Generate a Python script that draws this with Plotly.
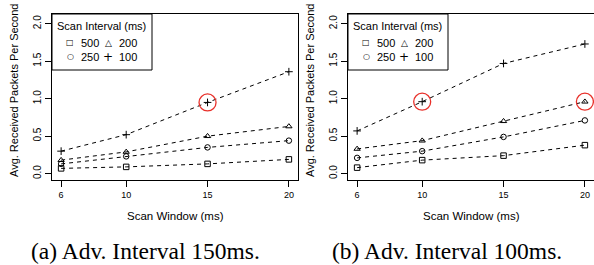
import plotly.graph_objects as go

scan_window = [6, 10, 15, 20]
intervals = ["500", "200", "250", "100"]
symbols = {"500": "square-open", "200": "triangle-up-open", "250": "circle-open", "100": "cross-thin-open"}

# Panel (a): Adv. interval 150 ms
panel_a = {
    "500": [0.07, 0.09, 0.13, 0.19],
    "200": [0.18, 0.29, 0.50, 0.63],
    "250": [0.13, 0.23, 0.35, 0.44],
    "100": [0.30, 0.52, 0.95, 1.36],
}
# Panel (b): Adv. interval 100 ms
panel_b = {
    "500": [0.08, 0.18, 0.24, 0.38],
    "200": [0.33, 0.44, 0.70, 0.96],
    "250": [0.21, 0.30, 0.49, 0.71],
    "100": [0.57, 0.96, 1.47, 1.73],
}
highlight_a = [("100", 15)]
highlight_b = [("100", 10), ("200", 20)]

y_ticks = [0.0, 0.5, 1.0, 1.5, 2.0]
y_ticktext = ["0.0", "0.5", "1.0", "1.5", "2.0"]

captions = ["(a) Adv. Interval 150ms.", "(b) Adv. Interval 100ms."]
y_title = "Avg. Received Packets Per Second"
x_title = "Scan Window (ms)"
legend_title = "Scan Interval (ms)"

W, H = 594, 265
SANS = "Liberation Sans, Arial, Helvetica, sans-serif"
SERIF = "Liberation Serif, Times New Roman, serif"

fig = go.Figure()

panels = [(panel_a, highlight_a, "x", "y"), (panel_b, highlight_b, "x2", "y2")]
for data, hl, xa, ya in panels:
    for key in intervals:
        fig.add_trace(go.Scatter(
            x=scan_window, y=data[key], mode="lines+markers",
            line=dict(color="black", width=1, dash="4px,4px"),
            marker=dict(symbol=symbols[key], size=5.5, color="black",
                        line=dict(color="black", width=1)),
            xaxis=xa, yaxis=ya, showlegend=False, hoverinfo="skip", cliponaxis=False))
    hx = [h[1] for h in hl]
    hy = [data[h[0]][scan_window.index(h[1])] for h in hl]
    fig.add_trace(go.Scatter(
        x=hx, y=hy, mode="markers",
        marker=dict(symbol="circle-open", size=17, color="#e8302a",
                    line=dict(color="#e8302a", width=1.3)),
        xaxis=xa, yaxis=ya, showlegend=False, hoverinfo="skip", cliponaxis=False))

def px(x):
    return x / W

def py(y):
    return 1 - y / H

y_dom = [py(180), py(14)]
x_doms = [[px(52), px(298)], [px(348), px(594)]]

axis_common = dict(showline=True, linecolor="black", linewidth=1, mirror=True,
                   ticks="outside", ticklen=6, tickcolor="black", tickwidth=1,
                   showgrid=False, zeroline=False)

fig.update_layout(
    width=W, height=H, margin=dict(l=0, r=0, t=0, b=0),
    paper_bgcolor="white", plot_bgcolor="white",
    xaxis=dict(domain=x_doms[0], range=[5.44, 20.56], tickvals=scan_window,
               tickfont=dict(family=SANS, size=9, color="black"), anchor="y", **axis_common),
    yaxis=dict(domain=y_dom, range=[-0.085, 2.13], tickvals=y_ticks, ticktext=y_ticktext,
               tickangle=-90, tickfont=dict(family=SANS, size=10, color="black"), anchor="x", **axis_common),
    xaxis2=dict(domain=x_doms[1], range=[5.44, 20.56], tickvals=scan_window,
                tickfont=dict(family=SANS, size=9, color="black"), anchor="y2", **axis_common),
    yaxis2=dict(domain=y_dom, range=[-0.085, 2.13], tickvals=y_ticks, ticktext=y_ticktext,
                tickangle=-90, tickfont=dict(family=SANS, size=10, color="black"), anchor="x2", **axis_common),
)

annotations = []
shapes = []
cap_centers = [145, 447]
for i, (x0, x1) in enumerate([(52, 298), (348, 594)]):
    off = 0 if i == 0 else 296
    # y axis title
    annotations.append(dict(text=y_title, x=px(14 + off), y=py(91), xref="paper", yref="paper",
                            textangle=-90, showarrow=False, xanchor="center", yanchor="middle",
                            font=dict(family=SANS, size=11, color="black")))
    # x axis title
    annotations.append(dict(text=x_title, x=px((x0 + x1) / 2), y=py(216), xref="paper", yref="paper",
                            showarrow=False, xanchor="center", yanchor="middle",
                            font=dict(family=SANS, size=11.5, color="black")))
    # caption
    annotations.append(dict(text=captions[i], x=px(cap_centers[i]), y=py(251), xref="paper", yref="paper",
                            showarrow=False, xanchor="center", yanchor="middle",
                            font=dict(family=SERIF, size=23.5, color="black")))
    # legend box
    shapes.append(dict(type="rect", xref="paper", yref="paper",
                       x0=px(x0), x1=px(x0 + 100), y0=py(70), y1=py(14),
                       line=dict(color="black", width=1), fillcolor="white", layer="above"))
    annotations.append(dict(text=legend_title, x=px(x0 + 3), y=py(26), xref="paper", yref="paper",
                            showarrow=False, xanchor="left", yanchor="middle",
                            font=dict(family=SANS, size=11, color="black")))
    glyphs = {"500": "□", "200": "△", "250": "○", "100": "+"}
    glyph_size = {"500": 8, "200": 9, "250": 8, "100": 12}
    pos = {"500": (0, 0), "200": (1, 0), "250": (0, 1), "100": (1, 1)}
    for key in intervals:
        c, r = pos[key]
        gx = x0 + 18 + c * 38
        gy = 43 + r * 14
        annotations.append(dict(text=glyphs[key], x=px(gx), y=py(gy), xref="paper", yref="paper",
                                showarrow=False, xanchor="center", yanchor="middle",
                                font=dict(family="DejaVu Sans", size=glyph_size[key], color="black")))
        annotations.append(dict(text=key, x=px(gx + 9), y=py(gy), xref="paper", yref="paper",
                                showarrow=False, xanchor="left", yanchor="middle",
                                font=dict(family=SANS, size=11, color="black")))

fig.update_layout(annotations=annotations, shapes=shapes)
fig.write_html("out.html", config={"displayModeBar": False},
               post_script="document.body.style.margin='0';document.body.style.overflow='hidden';")
